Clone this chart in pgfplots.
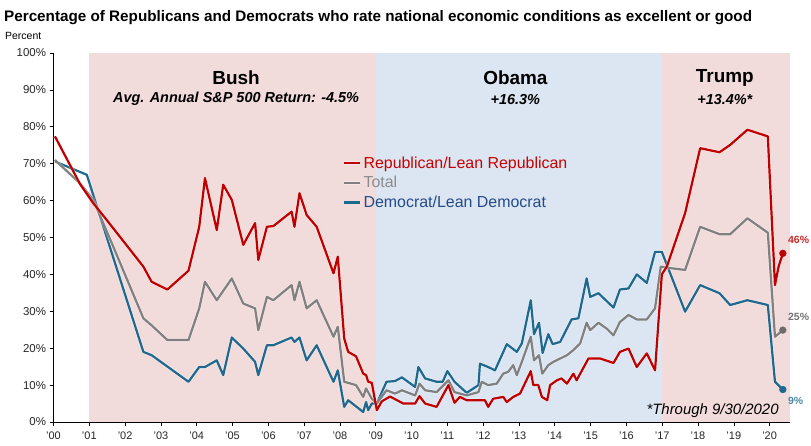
\documentclass[border=0pt]{standalone}
\usepackage{pgfplots}
\pgfplotsset{compat=1.18}
\usepackage{fontspec}
\setmainfont{Liberation Sans}
\definecolor{repred}{RGB}{192,0,0}
\definecolor{totgray}{RGB}{128,128,128}
\definecolor{demblue}{RGB}{31,104,142}
\definecolor{bushpink}{RGB}{242,220,219}
\definecolor{obamablue}{RGB}{220,230,242}
\definecolor{leglblue}{RGB}{79,129,189}
\definecolor{legtblue}{RGB}{36,75,135}
\definecolor{legtred}{RGB}{200,0,0}
\definecolor{legtgray}{RGB}{140,140,140}

\pgfplotstableread{
x y
0.04 77.4
0.74 64.5
1.11 59.3
1.49 54.7
2.51 42.1
2.74 38.0
3.18 35.9
3.77 41.0
4.07 52.9
4.23 66.1
4.56 52.0
4.74 64.3
4.98 60.2
5.30 48.0
5.63 53.9
5.72 43.9
5.96 52.9
6.14 53.1
6.65 57.0
6.73 52.9
6.87 62.0
7.07 56.1
7.35 52.9
7.82 40.3
7.94 44.8
8.12 22.6
8.23 19.0
8.45 17.8
8.65 13.1
8.73 12.7
8.79 10.9
8.89 10.6
9.03 3.2
9.17 5.6
9.40 6.9
9.77 5.0
10.10 5.0
10.22 7.0
10.38 5.0
10.70 4.1
11.03 10.0
11.20 5.2
11.35 6.8
11.54 5.9
12.05 5.9
12.14 4.1
12.28 6.3
12.56 6.8
12.66 5.4
12.84 6.8
13.03 7.7
13.33 13.8
13.40 10.0
13.54 10.0
13.64 6.8
13.79 5.9
13.87 10.0
14.06 11.3
14.19 11.8
14.34 10.4
14.52 13.1
14.61 11.3
14.94 17.2
15.27 17.2
15.64 16.0
15.82 19.0
16.06 19.9
16.29 14.9
16.57 18.6
16.80 14.0
16.99 40.0
17.13 42.1
17.64 56.6
18.06 74.2
18.60 73.1
18.90 75.1
19.38 79.2
19.95 77.4
20.15 37.1
20.25 42.1
20.37 45.7
}\rep

\pgfplotstableread{
x y
0.04 71.0
0.74 64.7
1.11 60.2
1.67 47.5
2.51 28.1
2.74 26.2
3.18 22.2
3.77 22.2
4.07 30.8
4.23 38.0
4.56 33.0
4.98 38.9
5.30 32.1
5.63 30.8
5.72 24.9
5.96 33.9
6.14 33.0
6.65 37.1
6.73 33.0
6.87 38.0
7.07 30.8
7.35 33.0
7.82 23.1
7.94 25.8
8.12 10.9
8.45 10.0
8.65 6.8
8.73 9.1
8.89 6.3
9.03 5.0
9.30 8.6
9.54 7.7
9.73 8.6
10.10 7.2
10.22 10.4
10.38 8.6
10.70 8.1
11.03 11.3
11.20 8.1
11.54 7.2
11.87 8.1
11.96 10.9
12.14 10.0
12.38 10.4
12.56 13.1
12.70 13.6
12.84 15.4
12.94 12.7
13.08 16.3
13.33 23.1
13.42 16.7
13.56 18.1
13.65 13.1
13.82 15.4
13.96 16.3
14.15 17.2
14.34 18.1
14.52 19.5
14.71 21.3
14.89 26.9
14.99 24.9
15.22 26.9
15.45 25.3
15.64 23.5
15.82 27.1
16.06 29.0
16.29 27.8
16.57 27.8
16.80 30.8
16.96 42.1
17.31 41.6
17.64 41.2
18.06 52.9
18.60 50.9
18.90 50.9
19.38 55.2
19.95 51.3
20.15 23.1
20.37 24.9
}\tot

\pgfplotstableread{
x y
0.04 70.6
0.93 67.0
2.51 19.0
2.74 18.1
3.77 10.9
4.07 14.9
4.23 14.9
4.56 16.7
4.74 12.7
4.98 22.9
5.30 19.9
5.63 16.3
5.72 12.7
5.96 20.8
6.14 20.8
6.65 22.9
6.73 21.7
6.87 22.9
7.07 16.7
7.35 20.8
7.82 10.9
7.94 14.0
8.12 4.1
8.23 5.9
8.65 2.7
8.73 5.4
8.79 3.2
8.89 5.0
9.03 5.0
9.30 10.9
9.54 11.1
9.73 12.1
10.10 9.5
10.19 14.9
10.38 11.8
10.70 10.9
10.87 10.9
11.00 13.8
11.20 10.9
11.54 7.9
11.87 10.0
11.91 15.8
12.14 14.9
12.33 14.0
12.66 21.1
12.94 19.0
13.08 21.3
13.33 33.0
13.42 23.8
13.56 26.9
13.66 18.7
13.82 23.8
13.94 21.1
14.15 21.7
14.47 27.8
14.66 28.1
14.89 38.9
14.99 33.9
15.22 34.9
15.64 31.0
15.82 35.9
16.06 36.2
16.29 40.0
16.57 37.7
16.80 46.1
16.99 46.1
17.64 29.9
18.06 37.1
18.60 34.9
18.90 31.7
19.38 33.0
19.95 31.7
20.15 10.9
20.37 8.8
}\dem

\begin{document}
\begin{tikzpicture}[x=1bp,y=1bp]
\path[use as bounding box] (0,0) rectangle (811,446);
\node[anchor=west, inner sep=0pt] at (4,428.5) {\fontsize{15.3}{17}\selectfont\bfseries Percentage of Republicans and Democrats who rate national economic conditions as excellent or good};
\node[anchor=west, inner sep=0pt] at (5,410.5) {\fontsize{10.5}{12}\selectfont Percent};
\begin{axis}[
  at={(53.5bp,24bp)}, anchor=south west, scale only axis,
  width=736.5bp, height=369bp,
  xmin=0, xmax=20.57, ymin=0, ymax=100,
  axis x line*=bottom, axis y line*=left,
  axis line style={black, line width=0.8pt},
  xtick={0,...,20},
  xticklabels={’00,’01,’02,’03,’04,’05,’06,’07,’08,’09,’10,’11,’12,’13,’14,’15,’16,’17,’18,’19,’20},
  ytick={0,10,...,100},
  yticklabel={\pgfmathprintnumber{\tick}\%},
  /pgf/number format/assume math mode=true,
  tick align=outside, major tick length=4bp,
  tick style={black, line width=0.6pt},
  x tick label style={font=\fontsize{11}{12}\selectfont, text=black!85, yshift=-2.5bp},
  y tick label style={font=\fontsize{11.5}{13}\selectfont, text=black!85},
  clip=false,
  legend style={draw=none, fill=none, at={(axis cs:8.05,72.5)}, anchor=north west,
    font=\fontsize{16}{18}\selectfont, row sep=2.6bp, inner sep=0pt},
  legend cell align=left,
  legend image code/.code={\draw[#1, line width=2.2bp] (0bp,0bp) -- (16bp,0bp);},
  reverse legend,
]
\addplot[fill=bushpink, draw=none, forget plot] coordinates {(1,100) (9,100)} \closedcycle;
\addplot[fill=obamablue, draw=none, forget plot] coordinates {(9,100) (17,100)} \closedcycle;
\addplot[fill=bushpink, draw=none, forget plot] coordinates {(17,100) (20.57,100)} \closedcycle;

\addplot[demblue, line width=2.2bp, line join=round, preaction={draw=white, line width=3.6bp, opacity=0.35}] table {\dem};
\addlegendentry{\textcolor{legtblue}{Democrat/Lean Democrat}}
\addplot[totgray, line width=2.2bp, line join=round, preaction={draw=white, line width=3.6bp, opacity=0.35}] table {\tot};
\addlegendentry{\textcolor{legtgray}{Total}}
\addplot[repred, line width=2.2bp, line join=round, preaction={draw=white, line width=3.6bp, opacity=0.35}] table {\rep};
\addlegendentry{\textcolor{legtred}{Republican/Lean Republican}}

\addplot[only marks, mark=*, mark size=3.4bp, repred, forget plot] coordinates {(20.37,45.7)};
\addplot[only marks, mark=*, mark size=3.4bp, totgray!85!black, forget plot] coordinates {(20.37,24.9)};
\addplot[only marks, mark=*, mark size=3.4bp, demblue, forget plot] coordinates {(20.37,8.8)};

\node[anchor=west, font=\fontsize{10.5}{12}\selectfont\bfseries, text=repred!85!white] at (axis cs:20.42,49.3) {46\%};
\node[anchor=west, font=\fontsize{10.5}{12}\selectfont\bfseries, text=totgray!90!black] at (axis cs:20.42,28.4) {25\%};
\node[anchor=west, font=\fontsize{10.5}{12}\selectfont\bfseries, text=demblue!80!white] at (axis cs:20.42,5.8) {9\%};

\node[font=\fontsize{19}{21}\selectfont\bfseries] at (axis cs:5.1,93.3) {Bush};
\node[font=\fontsize{14.5}{16}\selectfont\bfseries\itshape] at (axis cs:5.1,87.5) {Avg. Annual S\&P 500 Return: -4.5\%};
\node[font=\fontsize{19}{21}\selectfont\bfseries] at (axis cs:12.9,93.3) {Obama};
\node[font=\fontsize{14.5}{16}\selectfont\bfseries\itshape] at (axis cs:12.9,87.5) {+16.3\%};
\node[font=\fontsize{19}{21}\selectfont\bfseries] at (axis cs:18.75,93.3) {Trump};
\node[font=\fontsize{14.5}{16}\selectfont\bfseries\itshape] at (axis cs:18.75,87.5) {+13.4\%*};
\node[anchor=east, font=\fontsize{15}{17}\selectfont\itshape] at (axis cs:20.35,3.2) {*Through 9/30/2020};
\end{axis}
\end{tikzpicture}
\end{document}
